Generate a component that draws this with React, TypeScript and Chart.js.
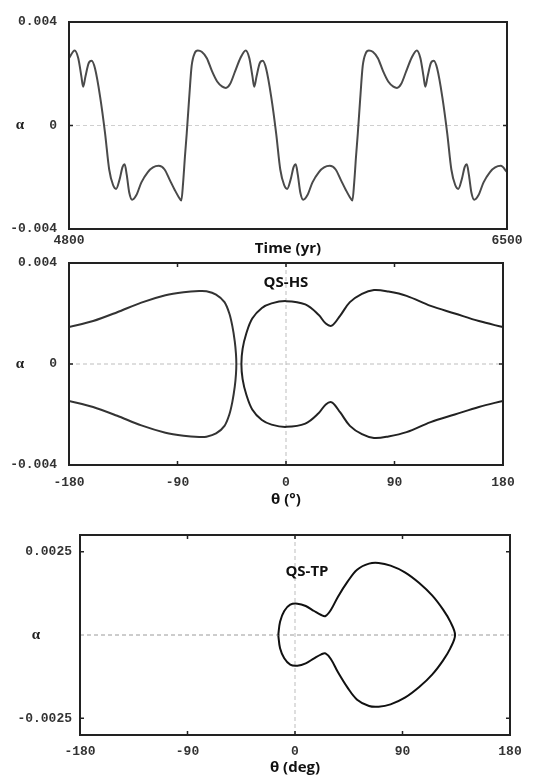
import React, { useEffect, useRef } from "react";
import { Chart, registerables } from "chart.js";

Chart.register(...registerables);

// ---------------- Panel 1 : alpha versus time ----------------
const timeYears = [
  4800, 4822, 4836, 4848, 4855, 4864, 4876, 4888, 4901, 4921,
  4940, 4956, 4971, 4983, 4996, 5008, 5016, 5024, 5034, 5045,
  5061, 5081, 5106, 5126, 5148, 5171, 5191, 5211, 5228, 5236,
  5243, 5250, 5257, 5266, 5276, 5288, 5300,
  5315, 5335, 5355, 5375, 5395, 5409, 5425, 5445, 5465, 5486,
  5500, 5512, 5519, 5528, 5540, 5552, 5565, 5585, 5604, 5620,
  5635, 5647, 5660, 5672, 5680, 5688, 5698, 5709, 5725, 5745,
  5770, 5790, 5812, 5835, 5855, 5875, 5892, 5900, 5907, 5914,
  5921, 5930, 5940, 5952, 5964,
  5979, 5999, 6019, 6039, 6059, 6073, 6089, 6109, 6129, 6150,
  6164, 6176, 6183, 6192, 6204, 6216, 6229, 6249, 6268, 6284,
  6299, 6311, 6324, 6336, 6344, 6352, 6362, 6373, 6389, 6409,
  6434, 6454, 6476, 6500,
];
const alphaVsTime = [
  0.0026, 0.0029, 0.0026, 0.0019, 0.0015, 0.0019, 0.0024, 0.0025, 0.0022, 0.0011,
  -0.0003, -0.0017, -0.0023, -0.00245, -0.0021, -0.0016, -0.0015, -0.0019, -0.0026, -0.00287,
  -0.0027, -0.0022, -0.0018, -0.00162, -0.00156, -0.0017, -0.0021, -0.0025, -0.0028, -0.0029,
  -0.0022, -0.0012, -0.0003, 0.001, 0.0023, 0.0028, 0.0029,
  0.00285, 0.0026, 0.0021, 0.0017, 0.0015, 0.00145, 0.0016, 0.0021, 0.0026, 0.0029,
  0.0026, 0.0019, 0.0015, 0.0019, 0.0024, 0.0025, 0.0022, 0.0011, -0.0003, -0.0017,
  -0.0023, -0.00245, -0.0021, -0.0016, -0.0015, -0.0019, -0.0026, -0.00287, -0.0027, -0.0022,
  -0.0018, -0.00162, -0.00156, -0.0017, -0.0021, -0.0025, -0.0028, -0.0029, -0.0022, -0.0012,
  -0.0003, 0.001, 0.0023, 0.0028, 0.0029,
  0.00285, 0.0026, 0.0021, 0.0017, 0.0015, 0.00145, 0.0016, 0.0021, 0.0026, 0.0029,
  0.0026, 0.0019, 0.0015, 0.0019, 0.0024, 0.0025, 0.0022, 0.0011, -0.0003, -0.0017,
  -0.0023, -0.00245, -0.0021, -0.0016, -0.0015, -0.0019, -0.0026, -0.00287, -0.0027, -0.0022,
  -0.0018, -0.00162, -0.00156, -0.0018,
];
const timeTickValues = [4800, 6500];

// ---------------- Panel 2 : QS-HS ----------------
const hsLeftTheta = [
  -180, -160, -140, -120, -100, -85, -72, -66, -58, -51, -47, -44.5, -42.5, -41.5, -41.2,
  -41.5, -42.5, -44.5, -47, -51, -58, -66, -72, -85, -100, -120, -140, -160, -180,
];
const hsLeftAlpha = [
  0.00146, 0.0017, 0.00205, 0.00243, 0.00272, 0.00284, 0.00289, 0.00288, 0.00275, 0.00245, 0.002, 0.0015, 0.0009, 0.0004, 0,
  -0.0004, -0.0009, -0.0015, -0.002, -0.00245, -0.00275, -0.00288, -0.00289, -0.00284, -0.00272, -0.00243, -0.00205, -0.0017, -0.00146,
];
const hsRightTheta = [
  180, 160, 140, 120, 100, 85, 73, 63, 53, 45, 38, 33, 27, 16, 0, -12, -20, -28, -33, -36,
  -37,
  -36, -33, -28, -20, -12, 0, 16, 27, 33, 38, 45, 53, 63, 73, 85, 100, 120, 140, 160, 180,
];
const hsRightAlpha = [
  0.00146, 0.0017, 0.002, 0.0023, 0.0027, 0.00287, 0.00293, 0.00278, 0.00245, 0.00192,
  0.00152, 0.0016, 0.00195, 0.00236, 0.00249, 0.0024, 0.00222, 0.0018, 0.0012, 0.0006,
  0,
  -0.0006, -0.0012, -0.0018, -0.00222, -0.0024, -0.00249, -0.00236, -0.00195, -0.0016, -0.00152,
  -0.00192, -0.00245, -0.00278, -0.00293, -0.00287, -0.0027, -0.0023, -0.002, -0.0017, -0.00146,
];

// ---------------- Panel 3 : QS-TP ----------------
const tpTheta = [
  -14, -12.5, -9, -4, 2, 9, 16, 22, 25.5, 30, 36, 44, 52, 62, 70, 80, 92, 104, 115, 124, 130,
  134,
  130, 124, 115, 104, 92, 80, 70, 62, 52, 44, 36, 30, 25.5, 22, 16, 9, 2, -4, -9, -12.5, -14,
];
const tpAlpha = [
  0, 0.0004, 0.00072, 0.00091, 0.00094, 0.00087, 0.00072, 0.0006, 0.00057, 0.00075,
  0.00115, 0.0016, 0.00196, 0.00214, 0.00216, 0.00208, 0.00188, 0.00156, 0.00118, 0.00076, 0.0004,
  0,
  -0.0004, -0.00076, -0.00118, -0.00156, -0.00188, -0.00208, -0.00215, -0.00213, -0.00194,
  -0.00158, -0.00112, -0.00072, -0.00055, -0.00058, -0.0007, -0.00085, -0.00092, -0.00089, -0.0007, -0.0004, 0,
];

const thetaTickValues = [-180, -90, 0, 90, 180];
const alphaTicksWide = [-0.004, 0, 0.004];
const alphaTicksTP = [-0.0025, 0.0025];

const pts = (xs: number[], ys: number[]) => xs.map((x, i) => ({ x, y: ys[i] }));

type Spec = {
  top: number;
  height: number;
  area: { left: number; right: number; top: number; bottom: number };
  xMin: number; xMax: number; yMin: number; yMax: number;
  xTicks: number[]; yTicks: number[];
  xTickPad: number; yTickPad: number;
  xTitle: string; titleBottomPad: number;
  datasets: any[];
  alphaX: number;
  zeroH: string | null; zeroV: string | null;
  xInTicks: number[]; yInTicks: number[];
  note?: { text: string; x: number; y: number };
};

const TICK_FONT = { family: "'Liberation Mono', 'DejaVu Sans Mono', monospace", size: 13, weight: "bold" as const };
const TITLE_FONT = { family: "'Open Sans', 'DejaVu Sans', sans-serif", size: 15, weight: "bold" as const };

function makeFramePlugin(spec: Spec) {
  return {
    id: "frame",
    beforeDatasetsDraw(chart: any) {
      const { ctx, chartArea: a, scales } = chart;
      const x = scales.x, y = scales.y;
      ctx.save();
      ctx.setLineDash([4, 3]);
      ctx.lineWidth = 1;
      if (spec.zeroH) {
        const py = y.getPixelForValue(0);
        ctx.strokeStyle = spec.zeroH;
        ctx.beginPath(); ctx.moveTo(a.left, py); ctx.lineTo(a.right, py); ctx.stroke();
      }
      if (spec.zeroV) {
        const px = x.getPixelForValue(0);
        ctx.strokeStyle = spec.zeroV;
        ctx.beginPath(); ctx.moveTo(px, a.top); ctx.lineTo(px, a.bottom); ctx.stroke();
      }
      ctx.restore();
    },
    afterDatasetsDraw(chart: any) {
      const { ctx, chartArea: a, scales } = chart;
      const x = scales.x, y = scales.y;
      ctx.save();
      ctx.strokeStyle = "#222";
      ctx.lineWidth = 2;
      ctx.strokeRect(a.left, a.top, a.right - a.left, a.bottom - a.top);
      ctx.lineWidth = 1.5;
      spec.xInTicks.forEach((v) => {
        const px = x.getPixelForValue(v);
        ctx.beginPath();
        ctx.moveTo(px, a.top); ctx.lineTo(px, a.top + 4);
        ctx.moveTo(px, a.bottom); ctx.lineTo(px, a.bottom - 4);
        ctx.stroke();
      });
      spec.yInTicks.forEach((v) => {
        const py = y.getPixelForValue(v);
        ctx.beginPath();
        ctx.moveTo(a.left, py); ctx.lineTo(a.left + 4, py);
        ctx.moveTo(a.right, py); ctx.lineTo(a.right - 4, py);
        ctx.stroke();
      });
      ctx.fillStyle = "#222";
      ctx.font = "bold 15px 'Liberation Serif', 'DejaVu Serif', serif";
      ctx.textAlign = "center";
      ctx.textBaseline = "middle";
      ctx.fillText("α", spec.alphaX, y.getPixelForValue(0));
      if (spec.note) {
        ctx.font = "bold 15px 'Open Sans', 'DejaVu Sans', sans-serif";
        ctx.fillStyle = "#111";
        ctx.fillText(spec.note.text, x.getPixelForValue(spec.note.x), y.getPixelForValue(spec.note.y));
      }
      ctx.restore();
    },
  };
}

function Panel({ spec }: { spec: Spec }) {
  const ref = useRef<HTMLCanvasElement | null>(null);
  useEffect(() => {
    if (!ref.current) return;
    const { area, top, height } = spec;
    const chart = new Chart(ref.current, {
      type: "scatter",
      data: { datasets: spec.datasets },
      options: {
        animation: false,
        responsive: false,
        maintainAspectRatio: false,
        layout: { padding: { left: 0, right: 544 - area.right, top: area.top - top, bottom: 0 } },
        plugins: { legend: { display: false }, tooltip: { enabled: false } },
        elements: { point: { radius: 0 } },
        scales: {
          x: {
            type: "linear",
            position: "bottom",
            min: spec.xMin,
            max: spec.xMax,
            grid: { display: false, drawTicks: false },
            border: { display: false },
            afterBuildTicks: (s: any) => { s.ticks = spec.xTicks.map((v) => ({ value: v })); },
            afterFit: (s: any) => { s.height = top + height - area.bottom; },
            ticks: {
              autoSkip: false, maxRotation: 0, padding: spec.xTickPad,
              font: TICK_FONT, color: "#333",
              callback: (v: any) => String(v),
            },
            title: {
              display: true, text: spec.xTitle, font: TITLE_FONT, color: "#111",
              padding: { top: 0, bottom: spec.titleBottomPad },
            },
          },
          y: {
            type: "linear",
            position: "left",
            min: spec.yMin,
            max: spec.yMax,
            grid: { display: false, drawTicks: false },
            border: { display: false },
            afterBuildTicks: (s: any) => { s.ticks = spec.yTicks.map((v) => ({ value: v })); },
            afterFit: (s: any) => { s.width = area.left; },
            ticks: {
              autoSkip: false, padding: spec.yTickPad,
              font: TICK_FONT, color: "#333",
              callback: (v: any) => String(v),
            },
          },
        },
      } as any,
      plugins: [makeFramePlugin(spec) as any],
    });
    return () => chart.destroy();
  }, [spec]);
  return (
    <canvas
      ref={ref}
      width={544}
      height={spec.height}
      style={{ position: "absolute", left: 0, top: spec.top, width: 544, height: spec.height, display: "block" }}
    />
  );
}

const lineStyle = (color: string, extra: any = {}) => ({
  showLine: true,
  borderColor: color,
  backgroundColor: color,
  borderWidth: 2,
  pointRadius: 0,
  fill: false,
  ...extra,
});

const spec1: Spec = {
  top: 0, height: 262,
  area: { left: 69, right: 507, top: 22, bottom: 229 },
  xMin: 4800, xMax: 6500, yMin: -0.004, yMax: 0.004,
  xTicks: timeTickValues, yTicks: alphaTicksWide,
  xTickPad: 4, yTickPad: 12,
  xTitle: "Time (yr)", titleBottomPad: 4,
  datasets: [
    { data: pts(timeYears, alphaVsTime), ...lineStyle("#4a4a4a", { cubicInterpolationMode: "monotone" }) },
  ],
  alphaX: 20,
  zeroH: "#cfcfcf", zeroV: null,
  xInTicks: [], yInTicks: [0],
};

const spec2: Spec = {
  top: 240, height: 270,
  area: { left: 69, right: 503, top: 263, bottom: 465 },
  xMin: -180, xMax: 180, yMin: -0.004, yMax: 0.004,
  xTicks: thetaTickValues, yTicks: alphaTicksWide,
  xTickPad: 10, yTickPad: 12,
  xTitle: "θ (°)", titleBottomPad: 1,
  datasets: [
    { data: pts(hsLeftTheta, hsLeftAlpha), ...lineStyle("#333", { tension: 0.3 }) },
    { data: pts(hsRightTheta, hsRightAlpha), ...lineStyle("#222", { tension: 0.35 }) },
  ],
  alphaX: 20,
  zeroH: "#bdbdbd", zeroV: "#bdbdbd",
  xInTicks: [-90, 0, 90], yInTicks: [0],
  note: { text: "QS-HS", x: 0, y: 0.0032 },
};

const spec3: Spec = {
  top: 510, height: 268,
  area: { left: 80, right: 510, top: 535, bottom: 735 },
  xMin: -180, xMax: 180, yMin: -0.003, yMax: 0.003,
  xTicks: thetaTickValues, yTicks: alphaTicksTP,
  xTickPad: 9, yTickPad: 8,
  xTitle: "θ (deg)", titleBottomPad: 1,
  datasets: [
    { data: pts(tpTheta, tpAlpha), ...lineStyle("#111", { tension: 0.35 }) },
  ],
  alphaX: 36,
  zeroH: "#9a9a9a", zeroV: "#bdbdbd",
  xInTicks: [-90, 0, 90], yInTicks: [-0.0025, 0.0025],
  note: { text: "QS-TP", x: 10, y: 0.0019 },
};

export default function App() {
  return (
    <div style={{ position: "absolute", left: 0, top: 0, width: 544, height: 778, background: "#fff", overflow: "hidden" }}>
      <Panel spec={spec1} />
      <Panel spec={spec2} />
      <Panel spec={spec3} />
    </div>
  );
}
